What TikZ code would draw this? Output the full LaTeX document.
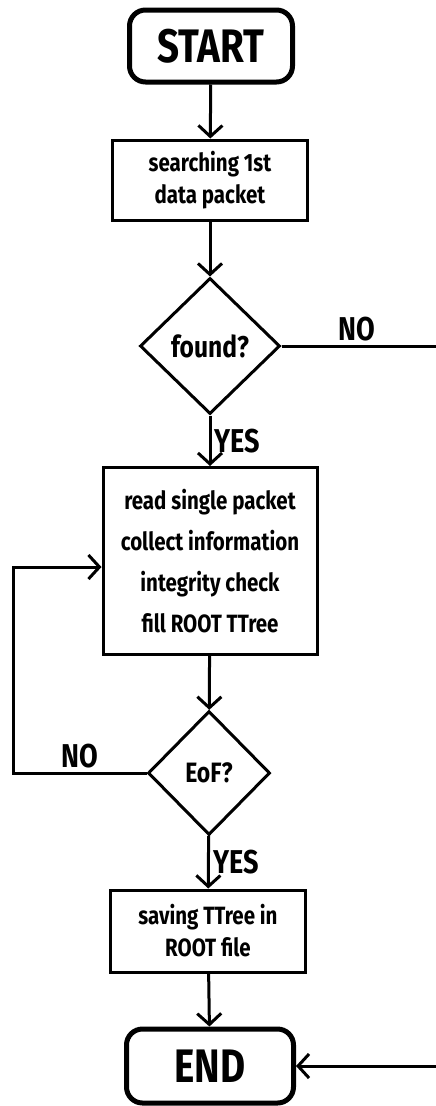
\documentclass[tikz,border=0pt]{standalone}
\usepackage{fontspec}
\setmainfont{Fira Sans}[FakeStretch=0.82]
\usepackage{tikz}
\usetikzlibrary{arrows.meta,%
                shapes.geometric,positioning}

\begin{document}
\begin{tikzpicture}[x=1pt,y=-1pt,
  term/.style={draw,line width=5pt,rounded corners=16pt,font=\bfseries\fontsize{47}{50}\selectfont},
  step box/.style={draw,line width=3pt,align=center,font=\bfseries\fontsize{25}{32}\selectfont},
  test/.style={draw,diamond,line width=3pt,inner sep=0pt,font=\bfseries\fontsize{30}{32}\selectfont},
  arr/.style={line width=3pt,-{Straight Barb[length=11pt,width=24pt,line width=3pt]}},
  lbl/.style={font=\bfseries\fontsize{33}{35}\selectfont}]
\useasboundingbox (0,0) rectangle (436,1106);
\node[term,minimum width=163pt,minimum height=72pt] (start) at (211,46) {START};
\node[step box,minimum width=195pt,minimum height=80pt] (search) at (210,180) {searching 1st\\data packet};
\node[test,minimum width=140pt,minimum height=136pt] (found) at (210,346) {found?};
\node[step box,minimum width=214pt,minimum height=187pt,font=\bfseries\fontsize{25}{41}\selectfont] (proc) at (210,561)
  {read single packet\\collect information\\integrity check\\fill ROOT TTree};
\node[test,minimum width=122pt,minimum height=124pt,font=\bfseries\fontsize{28}{30}\selectfont] (eof) at (209,773) {EoF?};
\node[step box,minimum width=195pt,minimum height=82pt] (save) at (208,931) {saving TTree in\\ROOT file};
\node[term,minimum width=167pt,minimum height=74pt] (stop) at (210,1066) {END};
\coordinate (rt) at (460,346);
\coordinate (lt) at (13,773);
\draw[arr] (start) -- (search);
\draw[arr] (search) -- (found);
\draw[arr] (found) -- node[lbl,right] {YES} (proc);
\draw[arr] (found.east) -- node[lbl,above,pos=0.42] {NO} (rt) |- (stop.east);
\draw[arr] (proc) -- (eof);
\draw[arr] (eof.west) -- node[lbl,above] {NO} (lt) |- ([yshift=-6pt]proc.west);
\draw[arr] (eof) -- node[lbl,right] {YES} (save);
\draw[arr] (save) -- (stop);
\end{tikzpicture}
\end{document}
